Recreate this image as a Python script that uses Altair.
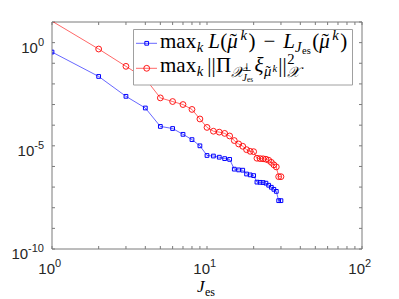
import altair as alt
import pandas as pd

# ---------------- data ----------------
j_es = list(range(1, 31))
err_L = [3.5e-1, 2.3e-2, 2.5e-3, 6.8e-4, 8.7e-5, 6.9e-5, 3.6e-5, 2.0e-5, 1.0e-5, 3.4e-6,
         3.2e-6, 2.8e-6, 2.4e-6, 2.2e-6, 7.4e-7, 6.8e-7, 6.6e-7, 4.3e-7, 3.9e-7, 3.6e-7,
         1.74e-7, 1.7e-7, 1.66e-7, 1.55e-7, 1.23e-7, 9.8e-8, 7.8e-8, 6.2e-8, 2.2e-8, 2.2e-8]
err_proj = [11.0, 0.49, 0.071, 0.018, 2.1e-3, 1.4e-3, 1.0e-3, 5.8e-4, 2.0e-4, 7.8e-5,
            5.1e-5, 4.6e-5, 4.0e-5, 3.0e-5, 1.8e-5, 1.23e-5, 9.5e-6, 6.5e-6, 5.4e-6, 5.2e-6,
            2.5e-6, 2.4e-6, 2.35e-6, 2.24e-6, 2.0e-6, 1.58e-6, 1.2e-6, 9.5e-7, 3.2e-7, 3.2e-7]

x_ticks = [1, 2, 3, 4, 5, 6, 7, 8, 9, 10, 20, 30, 40, 50, 60, 70, 80, 90, 100]
y_ticks = [1e-10, 1e-9, 1e-8, 1e-7, 1e-6, 1e-5, 1e-4, 1e-3, 1e-2, 1e-1, 1, 10]
x_label_vals = [1, 10, 100]
x_label_exps = ["0", "1", "2"]
y_label_vals = [1e-10, 1e-5, 1]
y_label_exps = ["-10", "-5", "0"]
y_max = 10

# ---------------- layout ----------------
W, H = 310, 227
OX, OY = 52, 22  # plot origin on page
AX = "#7a7a7a"
TX = "#262626"

xs = alt.Scale(type="log", domain=[1, 100], nice=False)
ys = alt.Scale(type="log", domain=[1e-10, y_max], nice=False)

df_b = pd.DataFrame({"J": j_es, "v": err_L})
df_r = pd.DataFrame({"J": j_es, "v": err_proj})

X = alt.X("J:Q", scale=xs, axis=None)
Y = alt.Y("v:Q", scale=ys, axis=None)

blue_line = alt.Chart(df_b).mark_line(color="#0000ff", strokeWidth=0.6, clip=True).encode(x=X, y=Y)
blue_pts = alt.Chart(df_b).mark_point(shape="square", size=14, color="#0000ff", strokeWidth=1,
                                       filled=False, clip=True, opacity=1).encode(x=X, y=Y)
red_line = alt.Chart(df_r).mark_line(color="#ff0000", strokeWidth=0.6, clip=True).encode(x=X, y=Y)
red_pts = alt.Chart(df_r).transform_filter(alt.datum.v <= y_max).mark_point(
    shape="circle", size=34, color="#ff0000", strokeWidth=0.9,
    filled=False, clip=True, opacity=1).encode(x=X, y=Y)

frame = alt.Chart(pd.DataFrame({"a": [0]})).mark_rect(fillOpacity=0, stroke=AX, strokeWidth=1).encode(
    x=alt.value(0), x2=alt.value(W), y=alt.value(0), y2=alt.value(H))

df_xt = pd.DataFrame({"t": x_ticks})
df_yt = pd.DataFrame({"t": y_ticks})
TL = 3
xt_bot = alt.Chart(df_xt).mark_rule(color=AX, strokeWidth=1).encode(
    x=alt.X("t:Q", scale=xs, axis=None), y=alt.value(H), y2=alt.value(H - TL))
xt_top = alt.Chart(df_xt).mark_rule(color=AX, strokeWidth=1).encode(
    x=alt.X("t:Q", scale=xs, axis=None), y=alt.value(0), y2=alt.value(TL))
yt_left = alt.Chart(df_yt).mark_rule(color=AX, strokeWidth=1).encode(
    y=alt.Y("t:Q", scale=ys, axis=None), x=alt.value(0), x2=alt.value(TL))
yt_right = alt.Chart(df_yt).mark_rule(color=AX, strokeWidth=1).encode(
    y=alt.Y("t:Q", scale=ys, axis=None), x=alt.value(W), x2=alt.value(W - TL))

# tick labels
df_xl = pd.DataFrame({"v": x_label_vals, "e": x_label_exps, "b": ["10"] * 3})
xl_base = alt.Chart(df_xl).mark_text(align="right", baseline="alphabetic", dx=3, fontSize=15,
                                     font="Liberation Sans", color=TX).encode(
    x=alt.X("v:Q", scale=xs, axis=None), y=alt.value(H + 25), text="b:N")
xl_exp = alt.Chart(df_xl).mark_text(align="left", baseline="alphabetic", dx=3, fontSize=11,
                                    font="Liberation Sans", color=TX).encode(
    x=alt.X("v:Q", scale=xs, axis=None), y=alt.value(H + 18), text="e:N")

EXP_FS = 11
def exp_w(s):
    return sum(0.333 if c == "-" else 0.556 for c in s) * EXP_FS

df_yl = pd.DataFrame({"v": y_label_vals, "e": y_label_exps, "b": ["10"] * 3,
                      "ex": [-8] * 3, "bx": [-8 - exp_w(s) for s in y_label_exps]})
yl_exp = alt.Chart(df_yl).mark_text(align="right", baseline="alphabetic", dy=3, fontSize=EXP_FS,
                                    font="Liberation Sans", color=TX).encode(
    x=alt.X("ex:Q", scale=None), y=alt.Y("v:Q", scale=ys, axis=None), text="e:N")
yl_base = alt.Chart(df_yl).mark_text(align="right", baseline="alphabetic", dy=10, fontSize=15,
                                     font="Liberation Sans", color=TX).encode(
    x=alt.X("bx:Q", scale=None), y=alt.Y("v:Q", scale=ys, axis=None), text="b:N")

# x title  J_es
df_title = pd.DataFrame({"t": ["J", "es"], "px": [197 - OX, 205 - OX], "py": [292 - OY, 296 - OY],
                         "fs": [17, 12]})
title_J = alt.Chart(df_title.iloc[[0]]).mark_text(align="left", baseline="alphabetic", fontStyle="italic",
                                                 font="Liberation Serif", color="#000").encode(
    x=alt.X("px:Q", scale=None), y=alt.Y("py:Q", scale=None), text="t:N", size=alt.Size("fs:Q", scale=None))
title_es = alt.Chart(df_title.iloc[[1]]).mark_text(align="left", baseline="alphabetic",
                                                  font="Liberation Serif", color="#000").encode(
    x=alt.X("px:Q", scale=None), y=alt.Y("py:Q", scale=None), text="t:N", size=alt.Size("fs:Q", scale=None))

# ---------------- legend ----------------
FS = 21
WID = {'m': .778, 'a': .444, 'x': .5, '(': .333, ')': .333, '−': .564, 'e': .444, 's': .389,
       '|': .2, 'Π': .722, '2': .5, '⊥': .6, 'k': .444, 'L': .556, 'μ': .55, 'J': .444,
       'ξ': .45, '𝒳': .75, '˜': 0}

def width(t, fs):
    return sum(WID.get(c, .5) for c in t) * fs

# (text, size factor, dy, italic, gap, advance)
TIL = ("˜", 1, 0, False, 2.5, False)
TIL_S = ("˜", .7, 4, False, 1.8, False)
line1 = [("max", 1, 0, False, 0, True), ("k", .7, 4, True, .5, True), ("L", 1, 0, True, 5, True),
         ("(", 1, 0, False, .5, True), TIL, ("μ", 1, 0, True, 0, True), ("k", .7, -8, True, 1.5, True),
         (")", 1, 0, False, 1.5, True), ("−", 1, 0, False, 8, True), ("L", 1, 0, True, 8, True),
         ("J", .7, 4, True, 0, True), ("es", .5, 6, False, 0.5, True), ("(", 1, 0, False, 1.5, True),
         TIL, ("μ", 1, 0, True, 0, True), ("k", .7, -8, True, 1.5, True), (")", 1, 0, False, 1.5, True)]
line2 = [("max", 1, 0, False, 0, True), ("k", .7, 4, True, .5, True), ("||", 1, 0, False, 4, True),
         ("Π", 1, 0, False, 0.5, True), ("𝒳", .7, 5, True, 0, True), ("⊥", .5, -1, False, 0, False),
         ("J", .5, 9, True, 0, True), ("es", .35, 10, False, 0, True), ("ξ", 1, 0, True, 1.5, True),
         TIL_S, ("μ", .7, 4, True, 0, True), ("k", .5, 0, True, 0.5, True), ("||", 1, 0, False, 1, True),
         ("2", .7, -8, False, .5, False), ("𝒳", .7, 5, True, .5, True)]

rows = []
for pieces, base_y in ((line1, 48), (line2, 72)):
    cur = 160.0
    for t, sf, dy, it, gap, adv in pieces:
        fs = FS * sf
        x = cur + gap
        rows.append({"t": t, "px": x - OX, "py": base_y + dy - OY, "fs": fs, "it": it})
        if adv:
            cur = x + width(t, fs)
df_leg = pd.DataFrame(rows)

leg_box = alt.Chart(pd.DataFrame({"a": [0]})).mark_rect(fill="white", stroke="#a0a0a0", strokeWidth=1).encode(
    x=alt.value(133.5 - OX), x2=alt.value(352.5 - OX), y=alt.value(29.5 - OY), y2=alt.value(85 - OY))

leg_it = alt.Chart(df_leg[df_leg.it]).mark_text(align="left", baseline="alphabetic", fontStyle="italic",
                                                font="Liberation Serif", color="#000").encode(
    x=alt.X("px:Q", scale=None), y=alt.Y("py:Q", scale=None), text="t:N", size=alt.Size("fs:Q", scale=None))
leg_up = alt.Chart(df_leg[~df_leg.it]).mark_text(align="left", baseline="alphabetic",
                                                 font="Liberation Serif", color="#000").encode(
    x=alt.X("px:Q", scale=None), y=alt.Y("py:Q", scale=None), text="t:N", size=alt.Size("fs:Q", scale=None))

df_ls = pd.DataFrame({"x1": [136 - OX] * 2, "x2": [157 - OX] * 2, "xm": [146.7 - OX] * 2,
                      "y": [43.3 - OY, 68.3 - OY], "s": ["b", "r"]})
leg_lb = alt.Chart(df_ls.iloc[[0]]).mark_rule(color="#0000ff", strokeWidth=0.6).encode(
    x=alt.X("x1:Q", scale=None), x2="x2:Q", y=alt.Y("y:Q", scale=None))
leg_lr = alt.Chart(df_ls.iloc[[1]]).mark_rule(color="#ff0000", strokeWidth=0.6).encode(
    x=alt.X("x1:Q", scale=None), x2="x2:Q", y=alt.Y("y:Q", scale=None))
leg_pb = alt.Chart(df_ls.iloc[[0]]).mark_point(shape="square", size=14, color="#0000ff", strokeWidth=1,
                                               opacity=1).encode(
    x=alt.X("xm:Q", scale=None), y=alt.Y("y:Q", scale=None))
leg_pr = alt.Chart(df_ls.iloc[[1]]).mark_point(shape="circle", size=34, color="#ff0000", strokeWidth=0.9,
                                               opacity=1).encode(
    x=alt.X("xm:Q", scale=None), y=alt.Y("y:Q", scale=None))

chart = alt.layer(
    frame, xt_bot, xt_top, yt_left, yt_right,
    blue_line, red_line, blue_pts, red_pts,
    xl_base, xl_exp, yl_base, yl_exp, title_J, title_es,
    leg_box, leg_lb, leg_lr, leg_pb, leg_pr, leg_it, leg_up,
).resolve_scale(x="independent", y="independent").properties(
    width=W, height=H,
    autosize=alt.AutoSizeParams(type="none"),
    padding={"left": OX - 8, "top": OY - 8, "right": 22, "bottom": 290 - (OY - 8) - H},
    background="white",
).configure_view(stroke=None)

chart.save("out.html", embed_options={"renderer": "svg", "actions": False})
